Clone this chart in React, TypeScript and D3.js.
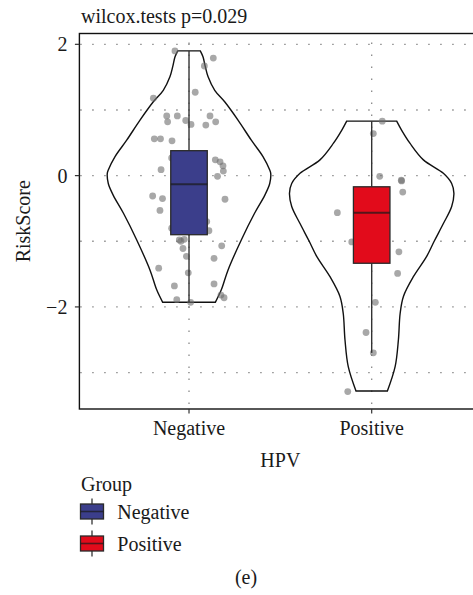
import React from "react";
import * as d3 from "d3";

// Groups on the x axis
const categories = ["Negative", "Positive"];
const groupColors = ["#3b3e8b", "#e20b1b"];

// Box statistics per group: [lower whisker, Q1, median, Q3, upper whisker]
const negativeBox = [-1.93, -0.9, -0.13, 0.38, 1.9];
const positiveBox = [-2.7, -1.335, -0.565, -0.17, 0.83];

// Violin outlines: [RiskScore, relative density]
const negativeViolin = [
  [1.9, 0.137], [1.81, 0.17], [1.66, 0.198], [1.51, 0.231], [1.3, 0.313],
  [1.125, 0.434], [0.846, 0.596], [0.54, 0.758], [0.29, 0.9], [0.085, 0.982],
  [0.035, 0.994], [-0.12, 0.982], [-0.3, 0.921], [-0.57, 0.799], [-0.98, 0.636],
  [-1.44, 0.474], [-1.74, 0.393], [-1.93, 0.32],
];
const positiveViolin = [
  [0.83, 0.304], [0.69, 0.365], [0.49, 0.467], [0.24, 0.629], [0.035, 0.872],
  [-0.12, 0.973], [-0.27, 1.0], [-0.47, 0.973], [-0.73, 0.872], [-1.0, 0.76],
  [-1.23, 0.669], [-1.54, 0.507], [-1.84, 0.386], [-2.1, 0.346], [-2.5, 0.325],
  [-2.91, 0.285], [-3.28, 0.191],
];

// Individual samples: [RiskScore, horizontal jitter in group units]
const negativePoints = [
  [1.9, -0.077], [1.79, 0.133], [1.67, 0.084], [1.27, 0.034], [1.18, -0.195],
  [0.91, -0.122], [0.91, -0.064], [0.82, -0.117], [0.84, -0.018], [0.78, 0.011],
  [0.91, 0.115], [0.82, 0.146], [0.77, 0.092], [0.56, -0.19], [0.56, -0.156],
  [0.53, -0.093], [0.24, 0.144], [0.21, 0.17], [0.15, 0.186], [0.07, 0.188],
  [-0.01, 0.156], [0.09, -0.153], [0.27, -0.095], [-0.31, -0.199], [-0.35, -0.145],
  [-0.36, 0.197], [-0.53, -0.159], [-0.7, 0.097], [-0.84, 0.109], [-0.8, -0.095],
  [-0.98, -0.053], [-0.97, -0.026], [-1.0, -0.044], [-1.11, -0.033], [-1.07, 0.179],
  [-1.23, -0.014], [-1.26, 0.137], [-1.41, -0.166], [-1.48, -0.004], [-1.68, -0.08],
  [-1.65, 0.137], [-1.89, -0.067], [-1.82, 0.175], [-1.86, 0.192], [-1.93, 0.009],
];
const positivePoints = [
  [0.83, 0.058], [0.64, 0.009], [-0.01, 0.044], [-0.08, 0.164], [-0.07, 0.162],
  [-0.25, 0.17], [-0.565, -0.188], [-1.01, -0.109], [-1.16, 0.149], [-1.49, 0.142],
  [-1.93, 0.02], [-2.39, -0.031], [-2.7, 0.009], [-3.29, -0.131],
];

const yTicks = [2, 0, -2];
const yGrid = [2, 1, 0, -1, -2, -3];

const boxes = [negativeBox, positiveBox];
const violins = [negativeViolin, positiveViolin];
const pointSets = [negativePoints, positivePoints];

const W = 473;
const H = 595;
const font = "'Liberation Serif', 'Times New Roman', serif";

export default function App() {
  const left = 79.4;
  const right = 481.3;
  const top = 33.5;
  const bottom = 409;

  const x = d3.scaleLinear().domain([0.4, 2.6]).range([left, right]);
  const y = d3.scaleLinear().domain([-3.555, 2.165]).range([bottom, top]);

  const violinWidth = 0.45;
  const boxHalf = 0.1;

  const violinPath = (profile: number[][], i: number) =>
    d3
      .area<number[]>()
      .y((d) => y(d[0]))
      .x0((d) => x(i + 1 - d[1] * violinWidth))
      .x1((d) => x(i + 1 + d[1] * violinWidth))
      .curve(d3.curveCatmullRom)(profile) as string;

  const gridColor = "#8a8a8a";

  return (
    <svg
      width={W}
      height={H}
      style={{ position: "absolute", left: 0, top: 0, background: "#fff" }}
      fontFamily={font}
    >
      <rect x={0} y={0} width={W} height={H} fill="#fff" />

      {/* dotted grid */}
      {yGrid.map((v) => (
        <line
          key={"gy" + v}
          x1={left}
          x2={right}
          y1={y(v)}
          y2={y(v)}
          stroke={gridColor}
          strokeWidth={1.3}
          strokeDasharray="1.5 10.5"
          strokeDashoffset={11.2}
        />
      ))}
      {categories.map((c, i) => (
        <line
          key={"gx" + c}
          x1={x(i + 1)}
          x2={x(i + 1)}
          y1={bottom}
          y2={top}
          stroke={gridColor}
          strokeWidth={1.3}
          strokeDasharray="1.5 10.5"
          strokeDashoffset={-5}
        />
      ))}

      {/* violins */}
      {violins.map((v, i) => (
        <path
          key={"v" + i}
          d={violinPath(v, i)}
          fill="none"
          stroke="#111"
          strokeWidth={1.4}
        />
      ))}

      {/* samples */}
      {pointSets.map((pts, i) =>
        pts.map((p, j) => (
          <circle
            key={"p" + i + "-" + j}
            cx={x(i + 1 + p[1])}
            cy={y(p[0])}
            r={3.4}
            fill="#6e6e6e"
            fillOpacity={0.6}
          />
        ))
      )}

      {/* boxplots */}
      {boxes.map((b, i) => {
        const cx = x(i + 1);
        return (
          <g key={"b" + i}>
            <line x1={cx} x2={cx} y1={y(b[3])} y2={y(b[4])} stroke="#333" strokeWidth={1.4} />
            <line x1={cx} x2={cx} y1={y(b[1])} y2={y(b[0])} stroke="#333" strokeWidth={1.4} />
            <rect
              x={x(i + 1 - boxHalf)}
              y={y(b[3])}
              width={x(i + 1 + boxHalf) - x(i + 1 - boxHalf)}
              height={y(b[1]) - y(b[3])}
              fill={groupColors[i]}
              stroke="#2a2a2a"
              strokeWidth={1.3}
            />
            <line
              x1={x(i + 1 - boxHalf)}
              x2={x(i + 1 + boxHalf)}
              y1={y(b[2])}
              y2={y(b[2])}
              stroke="#1a1a1a"
              strokeOpacity={0.7}
              strokeWidth={2}
            />
          </g>
        );
      })}

      {/* panel border */}
      <rect
        x={left}
        y={top}
        width={right - left}
        height={bottom - top}
        fill="none"
        stroke="#111"
        strokeWidth={1.4}
      />

      {/* y axis */}
      {yTicks.map((t) => (
        <g key={"yt" + t}>
          <line x1={left - 4.5} x2={left} y1={y(t)} y2={y(t)} stroke="#333" strokeWidth={1.2} />
          <text
            x={left - 12}
            y={y(t)}
            dy="0.35em"
            textAnchor="end"
            fontSize={20}
            fill="#1a1a1a"
          >
            {t < 0 ? "\u2212" + Math.abs(t) : String(t)}
          </text>
        </g>
      ))}
      <text
        transform={`translate(${30},${(top + bottom) / 2}) rotate(-90)`}
        textAnchor="middle"
        fontSize={20}
        fill="#1a1a1a"
      >
        RiskScore
      </text>

      {/* x axis */}
      {categories.map((c, i) => (
        <g key={"xt" + c}>
          <line x1={x(i + 1)} x2={x(i + 1)} y1={bottom} y2={bottom + 4.5} stroke="#333" strokeWidth={1.2} />
          <text x={x(i + 1)} y={435} textAnchor="middle" fontSize={20} fill="#1a1a1a">
            {c}
          </text>
        </g>
      ))}
      <text x={(left + right) / 2} y={466.5} textAnchor="middle" fontSize={20} fill="#1a1a1a">
        HPV
      </text>

      {/* title */}
      <text x={81} y={23} fontSize={20} fill="#1a1a1a">
        wilcox.tests p=0.029
      </text>

      {/* legend */}
      <text x={81} y={490.5} fontSize={20} fill="#1a1a1a">
        Group
      </text>
      {categories.map((c, i) => {
        const cy = 511.5 + i * 32;
        return (
          <g key={"lg" + c}>
            <line x1={92} x2={92} y1={cy - 13} y2={cy + 13} stroke="#333" strokeWidth={1.3} />
            <rect
              x={80.5}
              y={cy - 7.5}
              width={23}
              height={15}
              fill={groupColors[i]}
              stroke="#2a2a2a"
              strokeWidth={1.3}
            />
            <line x1={80.5} x2={103.5} y1={cy} y2={cy} stroke="#1a1a1a" strokeOpacity={0.7} strokeWidth={1.6} />
            <text x={117.3} y={cy + 7.5} fontSize={20} fill="#1a1a1a">
              {c}
            </text>
          </g>
        );
      })}

      <text x={246} y={584} textAnchor="middle" fontSize={20} fill="#1a1a1a">
        (e)
      </text>
    </svg>
  );
}
